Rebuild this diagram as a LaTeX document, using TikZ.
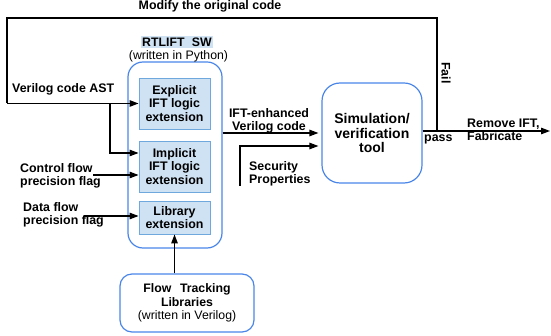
\documentclass[tikz,border=0pt]{standalone}
\usepackage{fontspec}
\setmainfont{Liberation Sans}
\usetikzlibrary{arrows.meta,positioning}
\definecolor{bordblue}{HTML}{4A86E8}
\definecolor{innerbord}{HTML}{6FA8DC}
\definecolor{fillblue}{HTML}{CFE2F3}
\tikzset{
  outerbox/.style={draw=bordblue, line width=1.2pt, rounded corners=15pt, align=center, font=\bfseries\fontsize{12.3}{13.5}\selectfont},
  innerbox/.style={draw=innerbord, fill=fillblue, line width=0.9pt, minimum width=71pt, align=center, inner sep=0pt, font=\bfseries\fontsize{12.4}{13.5}\selectfont},
  lbl/.style={align=left, inner sep=0pt, font=\bfseries\fontsize{12.4}{13.3}\selectfont},
  conn/.style={line width=1.2pt},
  arr/.style={line width=1.2pt, -{Triangle[length=9pt,width=6.5pt]}},
}
\begin{document}
\begin{tikzpicture}[x=1pt,y=-1pt]
\useasboundingbox (0,0) rectangle (551,336);
% main boxes
\node[outerbox, minimum width=94pt, minimum height=186pt] (rt) at (175,155) {};
\node[innerbox, minimum height=51pt] (exp) at (174.5,103.5) {Explicit\\IFT logic\\extension};
\node[innerbox, minimum height=51pt] (imp) at (174.5,166.5) {Implicit\\IFT logic\\extension};
\node[innerbox, minimum height=33pt] (lib) at (174.5,217.5) {Library\\extension};
\node[outerbox, minimum width=134pt, minimum height=58pt, rounded corners=12pt] (ftl) at (187,303) {Flow\hspace{0.7em}Tracking\\Libraries\\\mdseries(written in Verilog)};
\node[outerbox, minimum width=100pt, minimum height=100pt, rounded corners=18pt, font=\bfseries\fontsize{14}{14.5}\selectfont] (sim) at (372,133) {Simulation/\\verification\\tool};
% titles
\node[fill=fillblue, inner sep=1.5pt, font=\bfseries\fontsize{12.3}{12}\selectfont] (rtt) at (177,42) {RTLIFT\hspace{0.6em}SW};
\node[inner sep=0pt, font=\fontsize{12.3}{12}\selectfont] (rtp) at (178.5,56) {(written in Python)};
% loop
\coordinate (c0) at (7,18);
\coordinate (c1) at (7,103.5);
\coordinate (c2) at (437,18);
\coordinate (pj) at (437,131);
\coordinate (pend) at (550,131);
\coordinate (br) at (110,103.5);
\draw[conn] (pj) -- (c2) -- (c0) -- (c1);
\draw[arr] (c1) -- (exp.west);
\draw[arr] (br) |- (imp.west |- 0,153);
\coordinate (cf) at (93,175);
\draw[arr] (cf) -- (cf -| imp.west);
\coordinate (df) at (84,216);
\draw[arr] (df) -- (df -| lib.west);
\draw[arr] (lib.south |- ftl.north) -- (lib.south);
\draw[arr, shorten >=3pt] (rt.east |- 0,133) -- (sim.west |- 0,133);
\coordinate (sp) at (240,186);
\draw[arr, shorten >=3pt] (sp) |- (sim.west |- 0,146);
\draw[arr] (sim.east |- pj) -- (pend);
% labels
\node[lbl] (mod) at (210,6) {Modify the original code};
\node[lbl, anchor=west] (vast) at (12,89.5) {Verilog code AST};
\node[lbl, anchor=west] (cfl) at (20,175.5) {Control flow\\precision flag};
\node[lbl, anchor=west] (dfl) at (23,215) {Data flow\\precision flag};
\node[lbl, align=center] (iftl) at (269,120.5) {IFT-enhanced\\Verilog code};
\node[lbl, anchor=west] (spl) at (249,173.5) {Security\\Properties};
\node[lbl, anchor=west] (passl) at (424,139.5) {pass};
\node[lbl, anchor=west] (rem) at (467,130) {Remove IFT,\\Fabricate};
\node[lbl, rotate=-90] (fail) at (446,73) {Fail};
\end{tikzpicture}
\end{document}
